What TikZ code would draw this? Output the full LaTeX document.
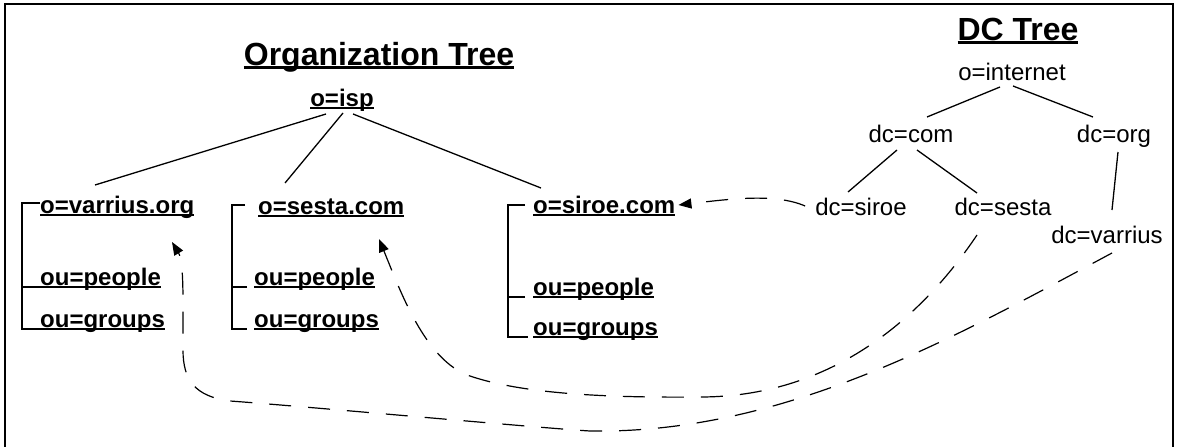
\documentclass[tikz,border=0pt]{standalone}
\usepackage{fontspec}
\setmainfont{Liberation Sans}
\usetikzlibrary{arrows.meta,calc}
\newcommand\ulx[1]{\setbox0=\hbox{#1}\rlap{\rule[-0.12em]{\wd0}{0.075em}}\box0}
\begin{document}
\begin{tikzpicture}[x=1pt,y=-1pt,
  lbl/.style={inner sep=0pt, font=\fontsize{24}{28}\selectfont},
  blbl/.style={inner sep=0pt, font=\fontsize{24}{28}\selectfont\bfseries},
  ttl/.style={inner sep=0pt, font=\fontsize{32}{38}\selectfont\bfseries},
  tree/.style={line width=1.3pt},
  frame/.style={line width=1.6pt},
  link/.style={line width=1.2pt, dash pattern=on 22pt off 17pt, -{Triangle[length=13pt,width=10pt]}},
]
\useasboundingbox (0,0) rectangle (1179,447);
\draw[frame] (5,470) -- (5,4) -- (1173,4) -- (1173,470);

\node[ttl, anchor=base] (otitle) at (379,65) {\ulx{Organization Tree}};
\node[ttl, anchor=base] (dtitle) at (1018,40) {\ulx{DC Tree}};

\node[blbl, anchor=base] (isp) at (342,106) {\ulx{o=isp}};
\node[blbl, anchor=base west] (vo) at (40,213) {\ulx{o=varrius.org}};
\node[blbl, anchor=base west] (vp) at (40,285) {\ulx{ou=people}};
\node[blbl, anchor=base west] (vg) at (40,327) {\ulx{ou=groups}};
\node[blbl, anchor=base west] (so) at (258,214) {\ulx{o=sesta.com}};
\node[blbl, anchor=base west] (sp) at (254,285) {\ulx{ou=people}};
\node[blbl, anchor=base west] (sg) at (254,327) {\ulx{ou=groups}};
\node[blbl, anchor=base west] (ro) at (533,213) {\ulx{o=siroe.com}};
\node[blbl, anchor=base west] (rp) at (533,295) {\ulx{ou=people}};
\node[blbl, anchor=base west] (rg) at (533,335) {\ulx{ou=groups}};

\node[lbl, anchor=base] (inet) at (1012,80) {o=internet};
\node[lbl, anchor=base] (dcom) at (911,142) {dc=com};
\node[lbl, anchor=base] (dorg) at (1114,142) {dc=org};
\node[lbl, anchor=base] (dsiroe) at (861,215) {dc=siroe};
\node[lbl, anchor=base] (dsesta) at (1003,215) {dc=sesta};
\node[lbl, anchor=base] (dvarr) at (1107,243) {dc=varrius};

% organization tree
\draw[tree] ($(isp.base)+(-16,8)$) -- ($(vo.base west)+(55,-28)$);
\draw[tree] ($(isp.base)+(1,7)$) -- ($(so.base west)+(27,-31)$);
\draw[tree] ($(isp.base)+(11,8)$) -- ($(ro.base west)+(8,-25)$);

% brackets
\draw[tree] ($(vo.base west)+(0,-10)$) -| ($(vg.base west)+(-18,2)$) -- ($(vg.base west)+(0,2)$);
\draw[tree] ($(vp.base west)+(0,2)$) -- ($(vp.base west)+(-18,2)$);
\draw[tree] ($(so.base west)+(-13,-9)$) -| ($(sg.base west)+(-22,2)$) -- ($(sg.base west)+(-7,2)$);
\draw[tree] ($(sp.base west)+(-7,2)$) -- ($(sp.base west)+(-22,2)$);
\draw[tree] ($(ro.base west)+(-8,-8)$) -| ($(rg.base west)+(-25,2)$) -- ($(rg.base west)+(-5,2)$);
\draw[tree] ($(rp.base west)+(-8,2)$) -- ($(rp.base west)+(-25,2)$);

% dc tree
\draw[tree] ($(inet.base)+(-12,7)$) -- ($(dcom.base)+(16,-25)$);
\draw[tree] ($(inet.base)+(1,6)$) -- ($(dorg.base)+(-21,-25)$);
\draw[tree] ($(dcom.base)+(-14,8)$) -- ($(dsiroe.base)+(-13,-23)$);
\draw[tree] ($(dcom.base)+(6,8)$) -- ($(dsesta.base)+(-26,-22)$);
\draw[tree] ($(dorg.base)+(4,10)$) -- ($(dvarr.base)+(5,-33)$);

% links
\draw[link] ($(dsiroe.base west)+(-10,-9)$) .. controls (775,193) and (730,199) .. ($(ro.base east)+(3,-8)$);
\draw[link] ($(dsesta.base)+(-26,20)$) .. controls (920,320) and (830,397) .. (700,397)
  .. controls (600,398) and (520,393) .. (470,376)
  .. controls (425,361) and (400,290) .. ($(so.base west)+(121,25)$);
\draw[link] ($(dvarr.base)+(5,10)$) .. controls (955,337) and (785,434) .. (590,431)
  .. controls (540,428) and (300,406) .. (230,401)
  .. controls (195,396.5) and (183,380) .. (183,350)
  .. controls (183,300) and (184,262) .. ($(vo.base west)+(132,29)$);
\end{tikzpicture}
\end{document}
